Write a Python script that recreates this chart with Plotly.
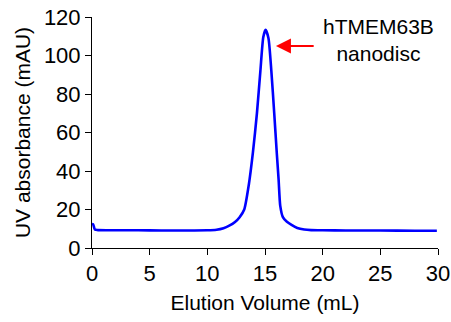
import plotly.graph_objects as go

# Elution volume (mL) and UV absorbance (mAU)
volume_ml = [0.0, 0.1, 0.25, 0.5, 2, 4, 6, 8, 10, 10.8, 11.4, 11.9, 12.4, 12.8,
             13.2, 13.6, 13.95, 14.3, 14.6, 14.85, 15.05, 15.3, 15.55, 15.8,
             16.02, 16.18, 16.32, 16.55, 16.9, 17.3, 17.8, 18.4, 19, 20, 22,
             25, 28, 29.9]
uv_mau = [12.5, 12.3, 9.6, 9.3, 9.2, 9.2, 9.1, 9.1, 9.2, 9.5, 10.3, 11.6, 13.5,
          16.0, 20.0, 33.0, 49.5, 70.0, 92.0, 109.5, 113.3, 109.0, 92.0, 70.0,
          49.5, 35.5, 22.0, 16.0, 13.6, 12.0, 10.4, 9.6, 9.3, 9.2, 9.1, 9.1,
          9.0, 9.0]

x_ticks = [0, 5, 10, 15, 20, 25, 30]
y_ticks = [0, 20, 40, 60, 80, 100, 120]
peak_label = "hTMEM63B<br>nanodisc"
arrow_tip = (15.95, 105)
arrow_tail = (19.35, 105)
label_pos = (24.85, 108)

FONT = "Liberation Sans, Arial, sans-serif"

fig = go.Figure()
fig.add_trace(go.Scatter(
    x=volume_ml, y=uv_mau, mode="lines",
    line=dict(color="#0000ff", width=2.6, shape="spline", smoothing=0.6),
    showlegend=False, hoverinfo="skip",
))

fig.add_annotation(
    x=arrow_tip[0], y=arrow_tip[1], ax=arrow_tail[0], ay=arrow_tail[1],
    xref="x", yref="y", axref="x", ayref="y", text="",
    showarrow=True, arrowhead=2, arrowsize=1.5, arrowwidth=2,
    arrowcolor="#ff0000",
)
fig.add_annotation(
    x=label_pos[0], y=label_pos[1], xref="x", yref="y", text=peak_label,
    showarrow=False, font=dict(family=FONT, size=21, color="black"),
    align="center",
)

axis_common = dict(
    showline=True, linecolor="black", linewidth=1, ticks="outside",
    ticklen=6, tickwidth=1, tickcolor="black", showgrid=False,
    zeroline=False, automargin=False,
    tickfont=dict(family=FONT, size=22, color="black"),
    title_font=dict(family=FONT, size=21, color="black"),
)

fig.update_layout(
    width=451, height=322,
    margin=dict(l=92, r=13, t=17, b=74),
    paper_bgcolor="white", plot_bgcolor="white",
    xaxis=dict(range=[0, 30], tickvals=x_ticks,
               title=dict(text="Elution Volume (mL)", standoff=9),
               **axis_common),
    yaxis=dict(range=[0, 120], tickvals=y_ticks,
               title=dict(text="UV absorbance (mAU)", standoff=7),
               **axis_common),
)

fig.write_html("out.html")
